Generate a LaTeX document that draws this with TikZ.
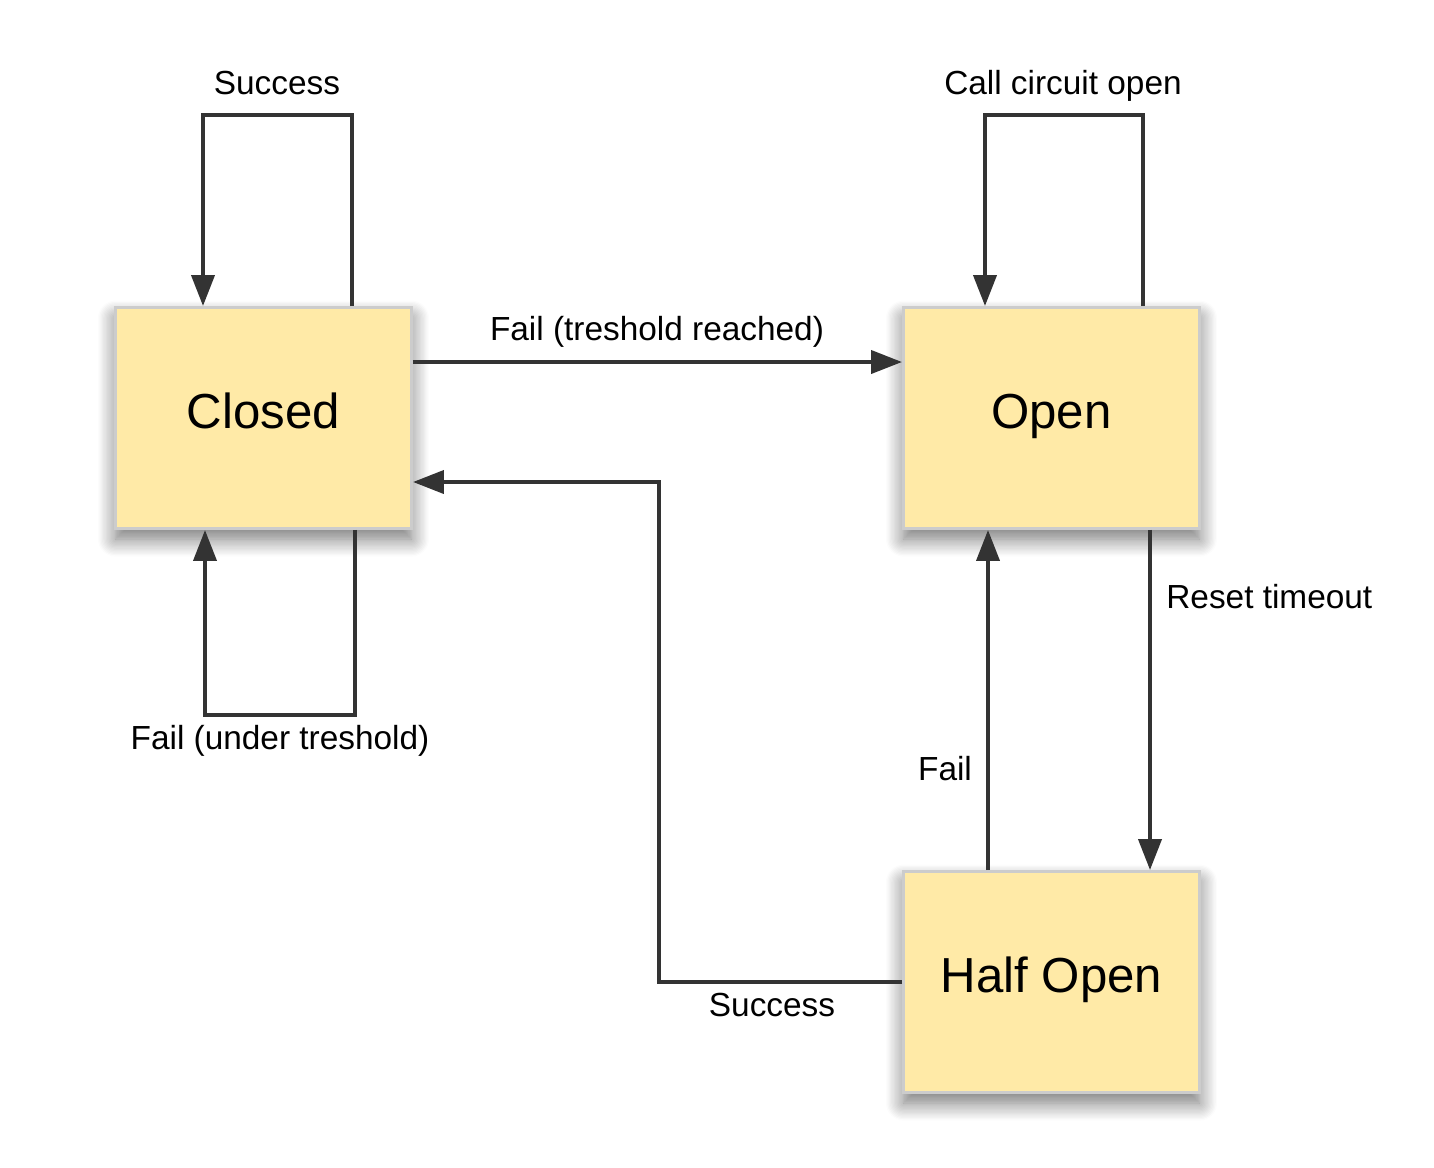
\documentclass[tikz,border=0pt]{standalone}
\usepackage{fontspec}
\setmainfont{Liberation Sans}
\usepackage{tikz}
\usetikzlibrary{arrows.meta}
\usetikzlibrary{calc}
\usetikzlibrary{shadows.blur}
\definecolor{colorState}{HTML}{FFEAA7}
\definecolor{colorBorder}{HTML}{CCCCCC}
\definecolor{colorTrans}{HTML}{333333}
\tikzset{
   every path/.style={>={Triangle[length=0.62cm,width=0.46cm]}},
   state/.style={rectangle,draw=colorBorder,line width=0.06cm,fill=colorState,
     minimum width=5.92cm,minimum height=4.42cm,
     blur shadow={shadow xshift=0pt,shadow yshift=-6pt,shadow blur radius=10pt,shadow blur steps=14,shadow opacity=55},
     font=\fontsize{28}{32}\selectfont,text height=20pt,text depth=0.28cm},
   trans/.style={->,color=colorTrans,line width=0.08cm},
   lab/.style={font=\fontsize{19}{23}\selectfont,inner sep=0pt,text height=13.6pt,text depth=0pt},
}

\begin{document}
\begin{tikzpicture}[x=0.02cm,y=-0.02cm]
  \useasboundingbox (0,0) rectangle (1434,1167);

  \node[state] (closed) at (263.5, 418)  {Closed};
  \node[state] (open)   at (1051.5, 418) {Open};
  \node[state] (half)   at (1051.5, 982) {Half Open};

  \coordinate (cornerCT) at (203, 115);
  \coordinate (cornerCB) at (205, 715);
  \coordinate (cornerOT) at (985, 115);
  \coordinate (cornerHC) at (659, 482);

  \draw[trans] ($(closed.north)+(88.5,0)$) |- (cornerCT) -- ($(closed.north)+(-60.5,0)$);
  \draw[trans] ($(closed.south)+(91.5,0)$) |- (cornerCB) -- ($(closed.south)+(-58.5,0)$);
  \draw[trans] ($(open.north)+(91.5,0)$)   |- (cornerOT) -- ($(open.north)+(-66.5,0)$);

  \draw[trans] ($(closed.east)+(0,-56)$) -- ($(open.west)+(0,-56)$);
  \draw[trans] (half.west) -| (cornerHC) -- ($(closed.east)+(0,64)$);
  \draw[trans] ($(open.south)+(98.5,0)$) -- ($(half.north)+(98.5,0)$);
  \draw[trans] ($(half.north)+(-63.5,0)$) -- ($(open.south)+(-63.5,0)$);

  \node[lab] (lSuccessC) at (277, 83)   {Success};
  \node[lab] (lCallOpen) at (1063, 83)  {Call circuit open};
  \node[lab] (lFailUnder) at (280, 738) {Fail (under treshold)};
  \node[lab] (lFailReach) at (657, 329) {Fail (treshold reached)};
  \node[lab,anchor=west] (lReset) at (1166, 597) {Reset timeout};
  \node[lab] (lFailHalf) at (945, 769)  {Fail};
  \node[lab] (lSuccessH) at (772, 1005) {Success};
\end{tikzpicture}
\end{document}
